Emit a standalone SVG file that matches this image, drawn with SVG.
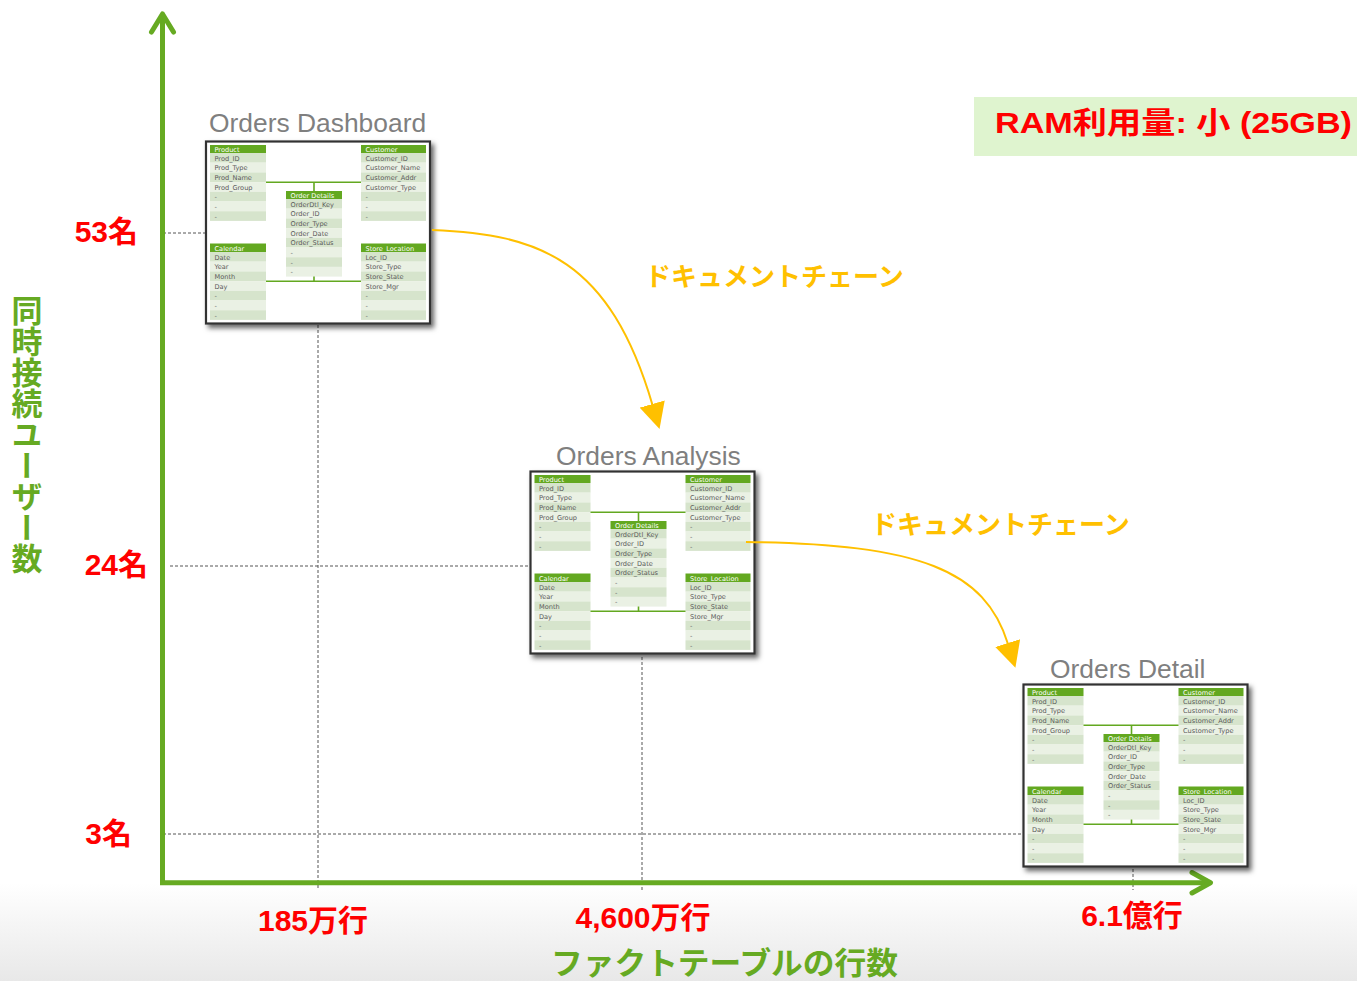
<svg xmlns="http://www.w3.org/2000/svg" width="1357" height="981" viewBox="0 0 1357 981">
<style>
.frame{fill:#fff;stroke:#333;stroke-width:2.2;filter:url(#sh)}
.hd{fill:#63A820}
.r1{fill:#D6E4CC}
.r2{fill:#EAF1E4}
.ht{font-family:"DejaVu Sans",Verdana,sans-serif;font-size:6.6px;fill:#fff}
.ft{font-family:"DejaVu Sans",Verdana,sans-serif;font-size:6.6px;fill:#5a5a5a}
.lk{fill:none;stroke:#63A820;stroke-width:1.6}
.title{font-family:"Liberation Sans",Arial,sans-serif;font-size:26.4px;fill:#7f7f7f}
.val{font-family:"Liberation Sans","Noto Sans CJK JP",sans-serif;font-weight:bold;font-size:30px;fill:#ff0000}
.axt{font-family:"Noto Sans CJK JP",sans-serif;font-weight:bold;font-size:31px;fill:#66AA22}
.chain{font-family:"Noto Sans CJK JP",sans-serif;font-weight:bold;font-size:26px;fill:#FFC000}
.dash{fill:none;stroke:#555;stroke-width:1;stroke-dasharray:3 2}
.axis{fill:none;stroke:#66AA22;stroke-width:5}
.axh{fill:none;stroke:#66AA22;stroke-width:5;stroke-linecap:round;stroke-linejoin:round}
.flow{fill:none;stroke:#FFC000;stroke-width:2;marker-end:url(#tri)}
</style>
<defs>
<linearGradient id="bg" x1="0" y1="0" x2="0" y2="1">
<stop offset="0" stop-color="#ffffff"/>
<stop offset="0.9" stop-color="#ffffff"/>
<stop offset="1" stop-color="#e8e8e8"/>
</linearGradient>
<filter id="sh" x="-10%" y="-10%" width="125%" height="125%">
<feDropShadow dx="3" dy="3.5" stdDeviation="2.4" flood-color="#000" flood-opacity="0.6"/>
</filter>
<marker id="tri" markerUnits="userSpaceOnUse" viewBox="0 0 26 26" markerWidth="26" markerHeight="26" refX="1" refY="13" orient="auto">
<path d="M0,0 L26,13 L0,26 Z" fill="#FFC000"/>
</marker>
</defs>
<rect x="0" y="0" width="1357" height="981" fill="url(#bg)"/>

<g id="guides">
<path class="dash" d="M163,233 H205"/>
<path class="dash" d="M170,566 H530"/>
<path class="dash" d="M163,834 H1022"/>
<path class="dash" d="M318,325 V890"/>
<path class="dash" d="M642,657 V890"/>
<path class="dash" d="M1133,869 V890"/>
</g>

<g id="axes">
<path class="axis" d="M162.5,15 V882.7 H1209"/>
<path class="axh" d="M151.5,32 L162.5,14 L173.5,32"/>
<path class="axh" d="M1192,872.5 L1210.5,882.7 L1192,893"/>
</g>

<g id="y-labels">
<text class="val" x="138" y="242" text-anchor="end">53名</text>
<text class="val" x="148" y="575" text-anchor="end">24名</text>
<text class="val" x="132" y="844" text-anchor="end">3名</text>
<text class="axt" x="27" y="295" style="writing-mode:vertical-rl">同時接続ユーザー数</text>
</g>

<g id="x-labels">
<text class="val" x="313" y="931" text-anchor="middle">185万行</text>
<text class="val" x="643" y="928" text-anchor="middle">4,600万行</text>
<text class="val" x="1132" y="926" text-anchor="middle">6.1億行</text>
<text class="axt" x="551" y="974" textLength="347" lengthAdjust="spacingAndGlyphs">ファクトテーブルの行数</text>
</g>

<g id="ram">
<rect x="974" y="97" width="383" height="59" fill="#DFF4CF"/>
<text class="val" x="995" y="133" textLength="357" lengthAdjust="spacingAndGlyphs">RAM利用量: 小 (25GB)</text>
</g>

<g id="node-dashboard">
<text class="title" x="209" y="132">Orders Dashboard</text>
<g transform="translate(206,141.5)">
<rect class="frame" x="0" y="0" width="224" height="182"/>
<rect class="hd" x="4" y="3.5" width="56" height="8"/><text class="ht" x="8.5" y="10.3">Product</text>
<rect class="r1" x="4" y="11.5" width="56" height="9.7"/><rect class="r2" x="4" y="21.2" width="56" height="9.7"/><rect class="r1" x="4" y="30.9" width="56" height="9.7"/><rect class="r2" x="4" y="40.6" width="56" height="9.7"/><rect class="r1" x="4" y="50.3" width="56" height="9.7"/><rect class="r2" x="4" y="60" width="56" height="9.7"/><rect class="r1" x="4" y="69.7" width="56" height="9.7"/>
<text class="ft" x="8.5" y="19">Prod_ID</text><text class="ft" x="8.5" y="28.7">Prod_Type</text><text class="ft" x="8.5" y="38.4">Prod_Name</text><text class="ft" x="8.5" y="48.1">Prod_Group</text><text class="ft" x="8.5" y="57.8">-</text><text class="ft" x="8.5" y="67.5">-</text><text class="ft" x="8.5" y="77.2">-</text>
<rect class="hd" x="155" y="3.5" width="65" height="8"/><text class="ht" x="159.5" y="10.3">Customer</text>
<rect class="r1" x="155" y="11.5" width="65" height="9.7"/><rect class="r2" x="155" y="21.2" width="65" height="9.7"/><rect class="r1" x="155" y="30.9" width="65" height="9.7"/><rect class="r2" x="155" y="40.6" width="65" height="9.7"/><rect class="r1" x="155" y="50.3" width="65" height="9.7"/><rect class="r2" x="155" y="60" width="65" height="9.7"/><rect class="r1" x="155" y="69.7" width="65" height="9.7"/>
<text class="ft" x="159.5" y="19">Customer_ID</text><text class="ft" x="159.5" y="28.7">Customer_Name</text><text class="ft" x="159.5" y="38.4">Customer_Addr</text><text class="ft" x="159.5" y="48.1">Customer_Type</text><text class="ft" x="159.5" y="57.8">-</text><text class="ft" x="159.5" y="67.5">-</text><text class="ft" x="159.5" y="77.2">-</text>
<rect class="hd" x="80" y="49.5" width="56" height="8"/><text class="ht" x="84.5" y="56.3">Order Details</text>
<rect class="r1" x="80" y="57.5" width="56" height="9.7"/><rect class="r2" x="80" y="67.2" width="56" height="9.7"/><rect class="r1" x="80" y="76.9" width="56" height="9.7"/><rect class="r2" x="80" y="86.6" width="56" height="9.7"/><rect class="r1" x="80" y="96.3" width="56" height="9.7"/><rect class="r2" x="80" y="106" width="56" height="9.7"/><rect class="r1" x="80" y="115.7" width="56" height="9.7"/><rect class="r2" x="80" y="125.4" width="56" height="9.7"/>
<text class="ft" x="84.5" y="65">OrderDtl_Key</text><text class="ft" x="84.5" y="74.7">Order_ID</text><text class="ft" x="84.5" y="84.4">Order_Type</text><text class="ft" x="84.5" y="94.1">Order_Date</text><text class="ft" x="84.5" y="103.8">Order_Status</text><text class="ft" x="84.5" y="113.5">-</text><text class="ft" x="84.5" y="123.2">-</text><text class="ft" x="84.5" y="132.9">-</text>
<rect class="hd" x="4" y="102" width="56" height="8.5"/><text class="ht" x="8.5" y="109">Calendar</text>
<rect class="r1" x="4" y="110.5" width="56" height="9.7"/><rect class="r2" x="4" y="120.2" width="56" height="9.7"/><rect class="r1" x="4" y="129.9" width="56" height="9.7"/><rect class="r2" x="4" y="139.6" width="56" height="9.7"/><rect class="r1" x="4" y="149.3" width="56" height="9.7"/><rect class="r2" x="4" y="159" width="56" height="9.7"/><rect class="r1" x="4" y="168.7" width="56" height="9.7"/>
<text class="ft" x="8.5" y="118">Date</text><text class="ft" x="8.5" y="127.7">Year</text><text class="ft" x="8.5" y="137.4">Month</text><text class="ft" x="8.5" y="147.1">Day</text><text class="ft" x="8.5" y="156.8">-</text><text class="ft" x="8.5" y="166.5">-</text><text class="ft" x="8.5" y="176.2">-</text>
<rect class="hd" x="155" y="102" width="65" height="8.5"/><text class="ht" x="159.5" y="109">Store_Location</text>
<rect class="r1" x="155" y="110.5" width="65" height="9.7"/><rect class="r2" x="155" y="120.2" width="65" height="9.7"/><rect class="r1" x="155" y="129.9" width="65" height="9.7"/><rect class="r2" x="155" y="139.6" width="65" height="9.7"/><rect class="r1" x="155" y="149.3" width="65" height="9.7"/><rect class="r2" x="155" y="159" width="65" height="9.7"/><rect class="r1" x="155" y="168.7" width="65" height="9.7"/>
<text class="ft" x="159.5" y="118">Loc_ID</text><text class="ft" x="159.5" y="127.7">Store_Type</text><text class="ft" x="159.5" y="137.4">Store_State</text><text class="ft" x="159.5" y="147.1">Store_Mgr</text><text class="ft" x="159.5" y="156.8">-</text><text class="ft" x="159.5" y="166.5">-</text><text class="ft" x="159.5" y="176.2">-</text>
<path class="lk" d="M60,40.7 H155 M108,40.7 V49.5 M60,139.7 H155 M108,135.1 V139.7"/>
</g>
</g>

<g id="node-analysis">
<text class="title" x="556" y="465">Orders Analysis</text>
<g transform="translate(530.5,471.5)">
<rect class="frame" x="0" y="0" width="224" height="182"/>
<rect class="hd" x="4" y="3.5" width="56" height="8"/><text class="ht" x="8.5" y="10.3">Product</text>
<rect class="r1" x="4" y="11.5" width="56" height="9.7"/><rect class="r2" x="4" y="21.2" width="56" height="9.7"/><rect class="r1" x="4" y="30.9" width="56" height="9.7"/><rect class="r2" x="4" y="40.6" width="56" height="9.7"/><rect class="r1" x="4" y="50.3" width="56" height="9.7"/><rect class="r2" x="4" y="60" width="56" height="9.7"/><rect class="r1" x="4" y="69.7" width="56" height="9.7"/>
<text class="ft" x="8.5" y="19">Prod_ID</text><text class="ft" x="8.5" y="28.7">Prod_Type</text><text class="ft" x="8.5" y="38.4">Prod_Name</text><text class="ft" x="8.5" y="48.1">Prod_Group</text><text class="ft" x="8.5" y="57.8">-</text><text class="ft" x="8.5" y="67.5">-</text><text class="ft" x="8.5" y="77.2">-</text>
<rect class="hd" x="155" y="3.5" width="65" height="8"/><text class="ht" x="159.5" y="10.3">Customer</text>
<rect class="r1" x="155" y="11.5" width="65" height="9.7"/><rect class="r2" x="155" y="21.2" width="65" height="9.7"/><rect class="r1" x="155" y="30.9" width="65" height="9.7"/><rect class="r2" x="155" y="40.6" width="65" height="9.7"/><rect class="r1" x="155" y="50.3" width="65" height="9.7"/><rect class="r2" x="155" y="60" width="65" height="9.7"/><rect class="r1" x="155" y="69.7" width="65" height="9.7"/>
<text class="ft" x="159.5" y="19">Customer_ID</text><text class="ft" x="159.5" y="28.7">Customer_Name</text><text class="ft" x="159.5" y="38.4">Customer_Addr</text><text class="ft" x="159.5" y="48.1">Customer_Type</text><text class="ft" x="159.5" y="57.8">-</text><text class="ft" x="159.5" y="67.5">-</text><text class="ft" x="159.5" y="77.2">-</text>
<rect class="hd" x="80" y="49.5" width="56" height="8"/><text class="ht" x="84.5" y="56.3">Order Details</text>
<rect class="r1" x="80" y="57.5" width="56" height="9.7"/><rect class="r2" x="80" y="67.2" width="56" height="9.7"/><rect class="r1" x="80" y="76.9" width="56" height="9.7"/><rect class="r2" x="80" y="86.6" width="56" height="9.7"/><rect class="r1" x="80" y="96.3" width="56" height="9.7"/><rect class="r2" x="80" y="106" width="56" height="9.7"/><rect class="r1" x="80" y="115.7" width="56" height="9.7"/><rect class="r2" x="80" y="125.4" width="56" height="9.7"/>
<text class="ft" x="84.5" y="65">OrderDtl_Key</text><text class="ft" x="84.5" y="74.7">Order_ID</text><text class="ft" x="84.5" y="84.4">Order_Type</text><text class="ft" x="84.5" y="94.1">Order_Date</text><text class="ft" x="84.5" y="103.8">Order_Status</text><text class="ft" x="84.5" y="113.5">-</text><text class="ft" x="84.5" y="123.2">-</text><text class="ft" x="84.5" y="132.9">-</text>
<rect class="hd" x="4" y="102" width="56" height="8.5"/><text class="ht" x="8.5" y="109">Calendar</text>
<rect class="r1" x="4" y="110.5" width="56" height="9.7"/><rect class="r2" x="4" y="120.2" width="56" height="9.7"/><rect class="r1" x="4" y="129.9" width="56" height="9.7"/><rect class="r2" x="4" y="139.6" width="56" height="9.7"/><rect class="r1" x="4" y="149.3" width="56" height="9.7"/><rect class="r2" x="4" y="159" width="56" height="9.7"/><rect class="r1" x="4" y="168.7" width="56" height="9.7"/>
<text class="ft" x="8.5" y="118">Date</text><text class="ft" x="8.5" y="127.7">Year</text><text class="ft" x="8.5" y="137.4">Month</text><text class="ft" x="8.5" y="147.1">Day</text><text class="ft" x="8.5" y="156.8">-</text><text class="ft" x="8.5" y="166.5">-</text><text class="ft" x="8.5" y="176.2">-</text>
<rect class="hd" x="155" y="102" width="65" height="8.5"/><text class="ht" x="159.5" y="109">Store_Location</text>
<rect class="r1" x="155" y="110.5" width="65" height="9.7"/><rect class="r2" x="155" y="120.2" width="65" height="9.7"/><rect class="r1" x="155" y="129.9" width="65" height="9.7"/><rect class="r2" x="155" y="139.6" width="65" height="9.7"/><rect class="r1" x="155" y="149.3" width="65" height="9.7"/><rect class="r2" x="155" y="159" width="65" height="9.7"/><rect class="r1" x="155" y="168.7" width="65" height="9.7"/>
<text class="ft" x="159.5" y="118">Loc_ID</text><text class="ft" x="159.5" y="127.7">Store_Type</text><text class="ft" x="159.5" y="137.4">Store_State</text><text class="ft" x="159.5" y="147.1">Store_Mgr</text><text class="ft" x="159.5" y="156.8">-</text><text class="ft" x="159.5" y="166.5">-</text><text class="ft" x="159.5" y="176.2">-</text>
<path class="lk" d="M60,40.7 H155 M108,40.7 V49.5 M60,139.7 H155 M108,135.1 V139.7"/>
</g>
</g>

<g id="node-detail">
<text class="title" x="1050" y="678">Orders Detail</text>
<g transform="translate(1023.5,684.5)">
<rect class="frame" x="0" y="0" width="224" height="182"/>
<rect class="hd" x="4" y="3.5" width="56" height="8"/><text class="ht" x="8.5" y="10.3">Product</text>
<rect class="r1" x="4" y="11.5" width="56" height="9.7"/><rect class="r2" x="4" y="21.2" width="56" height="9.7"/><rect class="r1" x="4" y="30.9" width="56" height="9.7"/><rect class="r2" x="4" y="40.6" width="56" height="9.7"/><rect class="r1" x="4" y="50.3" width="56" height="9.7"/><rect class="r2" x="4" y="60" width="56" height="9.7"/><rect class="r1" x="4" y="69.7" width="56" height="9.7"/>
<text class="ft" x="8.5" y="19">Prod_ID</text><text class="ft" x="8.5" y="28.7">Prod_Type</text><text class="ft" x="8.5" y="38.4">Prod_Name</text><text class="ft" x="8.5" y="48.1">Prod_Group</text><text class="ft" x="8.5" y="57.8">-</text><text class="ft" x="8.5" y="67.5">-</text><text class="ft" x="8.5" y="77.2">-</text>
<rect class="hd" x="155" y="3.5" width="65" height="8"/><text class="ht" x="159.5" y="10.3">Customer</text>
<rect class="r1" x="155" y="11.5" width="65" height="9.7"/><rect class="r2" x="155" y="21.2" width="65" height="9.7"/><rect class="r1" x="155" y="30.9" width="65" height="9.7"/><rect class="r2" x="155" y="40.6" width="65" height="9.7"/><rect class="r1" x="155" y="50.3" width="65" height="9.7"/><rect class="r2" x="155" y="60" width="65" height="9.7"/><rect class="r1" x="155" y="69.7" width="65" height="9.7"/>
<text class="ft" x="159.5" y="19">Customer_ID</text><text class="ft" x="159.5" y="28.7">Customer_Name</text><text class="ft" x="159.5" y="38.4">Customer_Addr</text><text class="ft" x="159.5" y="48.1">Customer_Type</text><text class="ft" x="159.5" y="57.8">-</text><text class="ft" x="159.5" y="67.5">-</text><text class="ft" x="159.5" y="77.2">-</text>
<rect class="hd" x="80" y="49.5" width="56" height="8"/><text class="ht" x="84.5" y="56.3">Order Details</text>
<rect class="r1" x="80" y="57.5" width="56" height="9.7"/><rect class="r2" x="80" y="67.2" width="56" height="9.7"/><rect class="r1" x="80" y="76.9" width="56" height="9.7"/><rect class="r2" x="80" y="86.6" width="56" height="9.7"/><rect class="r1" x="80" y="96.3" width="56" height="9.7"/><rect class="r2" x="80" y="106" width="56" height="9.7"/><rect class="r1" x="80" y="115.7" width="56" height="9.7"/><rect class="r2" x="80" y="125.4" width="56" height="9.7"/>
<text class="ft" x="84.5" y="65">OrderDtl_Key</text><text class="ft" x="84.5" y="74.7">Order_ID</text><text class="ft" x="84.5" y="84.4">Order_Type</text><text class="ft" x="84.5" y="94.1">Order_Date</text><text class="ft" x="84.5" y="103.8">Order_Status</text><text class="ft" x="84.5" y="113.5">-</text><text class="ft" x="84.5" y="123.2">-</text><text class="ft" x="84.5" y="132.9">-</text>
<rect class="hd" x="4" y="102" width="56" height="8.5"/><text class="ht" x="8.5" y="109">Calendar</text>
<rect class="r1" x="4" y="110.5" width="56" height="9.7"/><rect class="r2" x="4" y="120.2" width="56" height="9.7"/><rect class="r1" x="4" y="129.9" width="56" height="9.7"/><rect class="r2" x="4" y="139.6" width="56" height="9.7"/><rect class="r1" x="4" y="149.3" width="56" height="9.7"/><rect class="r2" x="4" y="159" width="56" height="9.7"/><rect class="r1" x="4" y="168.7" width="56" height="9.7"/>
<text class="ft" x="8.5" y="118">Date</text><text class="ft" x="8.5" y="127.7">Year</text><text class="ft" x="8.5" y="137.4">Month</text><text class="ft" x="8.5" y="147.1">Day</text><text class="ft" x="8.5" y="156.8">-</text><text class="ft" x="8.5" y="166.5">-</text><text class="ft" x="8.5" y="176.2">-</text>
<rect class="hd" x="155" y="102" width="65" height="8.5"/><text class="ht" x="159.5" y="109">Store_Location</text>
<rect class="r1" x="155" y="110.5" width="65" height="9.7"/><rect class="r2" x="155" y="120.2" width="65" height="9.7"/><rect class="r1" x="155" y="129.9" width="65" height="9.7"/><rect class="r2" x="155" y="139.6" width="65" height="9.7"/><rect class="r1" x="155" y="149.3" width="65" height="9.7"/><rect class="r2" x="155" y="159" width="65" height="9.7"/><rect class="r1" x="155" y="168.7" width="65" height="9.7"/>
<text class="ft" x="159.5" y="118">Loc_ID</text><text class="ft" x="159.5" y="127.7">Store_Type</text><text class="ft" x="159.5" y="137.4">Store_State</text><text class="ft" x="159.5" y="147.1">Store_Mgr</text><text class="ft" x="159.5" y="156.8">-</text><text class="ft" x="159.5" y="166.5">-</text><text class="ft" x="159.5" y="176.2">-</text>
<path class="lk" d="M60,40.7 H155 M108,40.7 V49.5 M60,139.7 H155 M108,135.1 V139.7"/>
</g>
</g>

<g id="connectors">
<path class="flow" d="M432,230 C540,234 610,260 652.5,405"/>
<text class="chain" x="645" y="286">ドキュメントチェーン</text>
<path class="flow" d="M746,542 C920,544 985,570 1008,644"/>
<text class="chain" x="871" y="534">ドキュメントチェーン</text>
</g>
</svg>
